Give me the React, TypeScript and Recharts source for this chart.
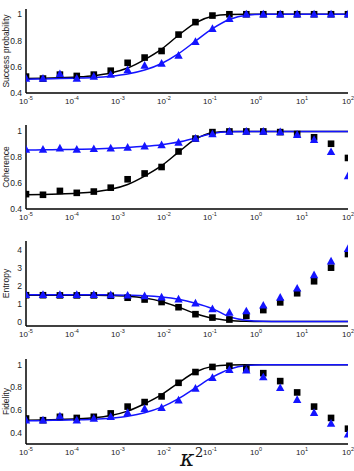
import React from 'react';
import { ComposedChart, Line, XAxis, YAxis } from 'recharts';

// coupling strength kappa^2 (log spaced sample points)
const kappa2 = [
  1e-5, 2.34e-5, 5.46e-5, 1.27e-4, 2.98e-4, 6.95e-4, 1.62e-3, 3.79e-3, 8.86e-3, 2.07e-2,
  4.83e-2, 0.113, 0.264, 0.616, 1.44, 3.36, 7.85, 18.3, 42.8, 100,
];

// success probability
const succSq = [0.525, 0.51, 0.54, 0.53, 0.54, 0.57, 0.63, 0.67, 0.72, 0.845, 0.94, 0.99, 1, 1, 1, 1, 1, 1, 1, 1];
const succTri = [0.51, 0.51, 0.545, 0.51, 0.525, 0.54, 0.575, 0.61, 0.625, 0.685, 0.79, 0.89, 0.965, 1, 1, 1, 1, 1, 1, 1];
const succLineB = [0.51, 0.512, 0.516, 0.522, 0.532, 0.552, 0.59, 0.655, 0.735, 0.84, 0.935, 0.985, 0.998, 1, 1, 1, 1, 1, 1, 1];
const succLineT = [0.505, 0.507, 0.51, 0.513, 0.518, 0.528, 0.545, 0.575, 0.625, 0.7, 0.795, 0.89, 0.96, 0.993, 1, 1, 1, 1, 1, 1];

// coherence
const cohSq = [0.515, 0.51, 0.54, 0.525, 0.535, 0.565, 0.63, 0.675, 0.725, 0.845, 0.945, 0.995, 1, 1, 1, 0.995, 0.98, 0.955, 0.905, 0.795];
const cohTri = [0.86, 0.86, 0.87, 0.86, 0.865, 0.87, 0.875, 0.885, 0.895, 0.915, 0.945, 0.98, 1, 1, 1, 0.995, 0.975, 0.935, 0.842, 0.655];
const cohLineB = [0.51, 0.512, 0.516, 0.522, 0.532, 0.552, 0.59, 0.655, 0.735, 0.84, 0.94, 0.99, 1, 1, 1, 1, 1, 1, 1, 1];
const cohLineT = [0.857, 0.858, 0.86, 0.862, 0.865, 0.87, 0.876, 0.885, 0.898, 0.918, 0.95, 0.985, 0.998, 1, 1, 1, 1, 1, 1, 1];

// entropy
const entSq = [1.47, 1.47, 1.46, 1.46, 1.46, 1.44, 1.33, 1.23, 1.09, 0.8, 0.41, 0.22, 0.11, 0.32, 0.64, 1.07, 1.58, 2.25, 3.01, 3.77];
const entTri = [1.5, 1.5, 1.49, 1.49, 1.49, 1.48, 1.46, 1.42, 1.35, 1.24, 1.02, 0.7, 0.5, 0.58, 0.9, 1.34, 1.85, 2.6, 3.37, 4.07];
const entLineB = [1.47, 1.47, 1.47, 1.47, 1.465, 1.45, 1.41, 1.31, 1.12, 0.8, 0.45, 0.18, 0.06, 0.015, 0.002, 0, 0, 0, 0, 0];
const entLineT = [1.5, 1.5, 1.5, 1.5, 1.5, 1.49, 1.47, 1.44, 1.37, 1.24, 1.02, 0.72, 0.27, 0.07, 0.01, 0, 0, 0, 0, 0];

// fidelity
const fidSq = [0.525, 0.51, 0.54, 0.53, 0.54, 0.57, 0.63, 0.67, 0.72, 0.84, 0.935, 0.98, 0.99, 0.965, 0.925, 0.855, 0.755, 0.63, 0.53, 0.435];
const fidTri = [0.51, 0.51, 0.545, 0.51, 0.525, 0.54, 0.575, 0.61, 0.62, 0.685, 0.79, 0.885, 0.955, 0.95, 0.89, 0.795, 0.69, 0.575, 0.48, 0.385];
const fidLineB = [0.51, 0.512, 0.516, 0.522, 0.532, 0.552, 0.59, 0.655, 0.735, 0.84, 0.935, 0.985, 0.998, 1, 1, 1, 1, 1, 1, 1];
const fidLineT = [0.505, 0.507, 0.51, 0.513, 0.518, 0.528, 0.545, 0.575, 0.625, 0.7, 0.795, 0.89, 0.96, 0.993, 1, 1, 1, 1, 1, 1];

const decadeTicks = [1e-5, 1e-4, 1e-3, 1e-2, 1e-1, 1, 10, 100];
const minorTicks: number[] = [];
for (let e = -5; e < 2; e++) {
  for (let m = 2; m < 10; m++) minorTicks.push(m * Math.pow(10, e));
}

const FONT = '"Liberation Sans", Arial, sans-serif';
const BLUE = '#1414ff';
const X_DOMAIN: [number, number] = [1e-5, 100];
const AXIS_H = 20;

const PowTick = (props: any) => {
  const { x, y, payload } = props;
  const exp = Math.round(Math.log10(payload.value));
  return (
    <text x={x} y={y} textAnchor="middle" fontFamily={FONT} fontSize={8} fill="#222">
      10
      <tspan dy={-4} fontSize={5.5}>
        {exp}
      </tspan>
    </text>
  );
};

const SquareDot = (props: any) => {
  const { cx, cy, index } = props;
  if (cx == null || cy == null) return null;
  return <rect key={`sq-${index}`} x={cx - 3.3} y={cy - 3.3} width={6.6} height={6.6} fill="#000" />;
};

const TriDot = (props: any) => {
  const { cx, cy, index } = props;
  if (cx == null || cy == null) return null;
  return (
    <polygon
      key={`tri-${index}`}
      points={`${cx},${cy - 4.5} ${cx - 4.2},${cy + 3.2} ${cx + 4.2},${cy + 3.2}`}
      fill={BLUE}
    />
  );
};

interface PanelProps {
  top: number;
  height: number;
  marginTop: number;
  marginBottom: number;
  label: string;
  domain: [number, number];
  yTicks: number[];
  sq: number[];
  tri: number[];
  lineB: number[];
  lineT: number[];
}

const Panel: React.FC<PanelProps> = ({ top, height, marginTop, marginBottom, label, domain, yTicks, sq, tri, lineB, lineT }) => {
  const data = kappa2.map((x, i) => ({ x, sq: sq[i], tri: tri[i], lb: lineB[i], lt: lineT[i] }));
  const plotH = height - marginTop - marginBottom - AXIS_H;
  const inner = { stroke: '#000', strokeWidth: 1 };
  const box = { stroke: '#000', strokeWidth: 1.5 };

  return (
    <div style={{ position: 'absolute', left: 0, top, width: 354, height }}>
      <ComposedChart width={354} height={height} data={data} margin={{ top: marginTop, right: 6, bottom: marginBottom, left: 0 }}>
        <XAxis
          xAxisId="x"
          dataKey="x"
          type="number"
          scale="log"
          domain={X_DOMAIN}
          allowDataOverflow
          ticks={decadeTicks}
          interval={0}
          tick={<PowTick />}
          tickLine={false}
          tickSize={0}
          tickMargin={11}
          axisLine={box}
          height={AXIS_H}
        />
        <XAxis xAxisId="xb" dataKey="x" type="number" scale="log" domain={X_DOMAIN} allowDataOverflow ticks={decadeTicks} interval={0} mirror tick={false} tickSize={4} tickLine={inner} axisLine={false} height={0} />
        <XAxis xAxisId="xbm" dataKey="x" type="number" scale="log" domain={X_DOMAIN} allowDataOverflow ticks={minorTicks} interval={0} mirror tick={false} tickSize={2} tickLine={inner} axisLine={false} height={0} />
        <XAxis xAxisId="xt" dataKey="x" orientation="top" type="number" scale="log" domain={X_DOMAIN} allowDataOverflow ticks={decadeTicks} interval={0} mirror tick={false} tickSize={4} tickLine={inner} axisLine={box} height={0} />
        <XAxis xAxisId="xtm" dataKey="x" orientation="top" type="number" scale="log" domain={X_DOMAIN} allowDataOverflow ticks={minorTicks} interval={0} mirror tick={false} tickSize={2} tickLine={inner} axisLine={false} height={0} />

        <YAxis
          yAxisId="y"
          type="number"
          domain={domain}
          allowDataOverflow
          ticks={yTicks}
          interval={0}
          width={26}
          tickLine={false}
          tickSize={0}
          tickMargin={4}
          axisLine={box}
          tick={{ fontSize: 8.5, fill: '#222', fontFamily: FONT }}
        />
        <YAxis yAxisId="yl" type="number" domain={domain} allowDataOverflow ticks={yTicks} interval={0} mirror tick={false} tickSize={4} tickLine={inner} axisLine={false} width={0} />
        <YAxis yAxisId="yr" orientation="right" type="number" domain={domain} allowDataOverflow ticks={yTicks} interval={0} mirror tick={false} tickSize={4} tickLine={inner} axisLine={box} width={0} />

        <Line xAxisId="x" yAxisId="y" dataKey="lb" type="monotone" stroke="#000" strokeWidth={1.5} dot={false} isAnimationActive={false} />
        <Line xAxisId="x" yAxisId="y" dataKey="lt" type="monotone" stroke={BLUE} strokeWidth={1.5} dot={false} isAnimationActive={false} />
        <Line xAxisId="x" yAxisId="y" dataKey="sq" stroke="none" dot={SquareDot} activeDot={false} isAnimationActive={false} />
        <Line xAxisId="x" yAxisId="y" dataKey="tri" stroke="none" dot={TriDot} activeDot={false} isAnimationActive={false} />
      </ComposedChart>
      <svg width={20} height={height} style={{ position: 'absolute', left: 0, top: 0 }}>
        <text
          x={8.5}
          y={marginTop + plotH / 2}
          transform={`rotate(-90 8.5 ${marginTop + plotH / 2})`}
          textAnchor="middle"
          fontFamily={FONT}
          fontSize={8.5}
          fill="#222"
        >
          {label}
        </text>
      </svg>
    </div>
  );
};

export default function App() {
  return (
    <div style={{ position: 'absolute', left: 0, top: 0, width: 354, height: 471, background: '#fff' }}>
      <Panel top={0} height={116} marginTop={9} marginBottom={3} label="Success probability" domain={[0.4, 1.04]} yTicks={[0.4, 0.6, 0.8, 1]} sq={succSq} tri={succTri} lineB={succLineB} lineT={succLineT} />
      <Panel top={116} height={116} marginTop={9} marginBottom={3} label="Coherence" domain={[0.4, 1.05]} yTicks={[0.4, 0.6, 0.8, 1]} sq={cohSq} tri={cohTri} lineB={cohLineB} lineT={cohLineT} />
      <Panel top={232} height={116} marginTop={9} marginBottom={2} label="Entropy" domain={[-0.25, 4.5]} yTicks={[0, 1, 2, 3, 4]} sq={entSq} tri={entTri} lineB={entLineB} lineT={entLineT} />
      <Panel top={348} height={123} marginTop={11} marginBottom={7} label="Fidelity" domain={[0.3, 1.05]} yTicks={[0.4, 0.6, 0.8, 1]} sq={fidSq} tri={fidTri} lineB={fidLineB} lineT={fidLineT} />
      <svg width={354} height={471} style={{ position: 'absolute', left: 0, top: 0, pointerEvents: 'none' }}>
        <text x={180} y={466} fontFamily='"DejaVu Serif", serif' fontStyle="italic" fontSize={22} fill="#111">
          κ
        </text>
        <text x={195} y={457} fontFamily='"DejaVu Serif", serif' fontSize={13} fill="#111">
          2
        </text>
      </svg>
    </div>
  );
}
